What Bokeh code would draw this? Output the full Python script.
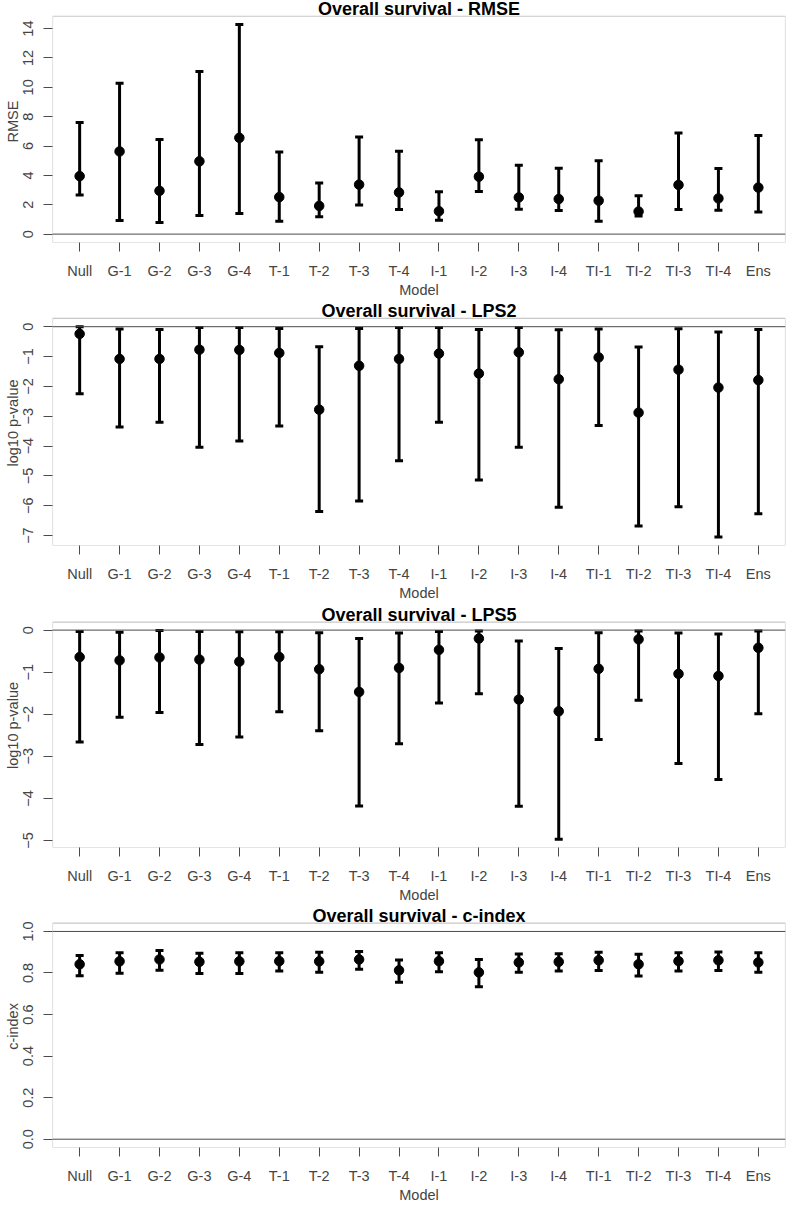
from bokeh.plotting import figure
from bokeh.models import (Range1d, FixedTicker, Span, Whisker, ColumnDataSource,
                          TeeHead, PrintfTickFormatter, Label, BoxAnnotation)
from bokeh.layouts import column
from bokeh.embed import file_html
from bokeh.resources import INLINE

models = ["Null", "G-1", "G-2", "G-3", "G-4", "T-1", "T-2", "T-3", "T-4",
          "I-1", "I-2", "I-3", "I-4", "TI-1", "TI-2", "TI-3", "TI-4", "Ens"]

rmse_mid = [3.95, 5.63, 2.95, 4.96, 6.56, 2.52, 1.92, 3.37, 2.84,
            1.56, 3.91, 2.50, 2.39, 2.28, 1.54, 3.35, 2.43, 3.17]
rmse_lo = [2.66, 0.92, 0.80, 1.27, 1.41, 0.87, 1.18, 1.99, 1.67,
           0.94, 2.90, 1.70, 1.61, 0.87, 1.23, 1.67, 1.63, 1.50]
rmse_hi = [7.61, 10.27, 6.45, 11.07, 14.27, 5.60, 3.48, 6.61, 5.65,
           2.88, 6.43, 4.69, 4.49, 5.00, 2.61, 6.88, 4.47, 6.72]

lps2_mid = [-0.24, -1.08, -1.08, -0.77, -0.78, -0.88, -2.78, -1.31, -1.08,
            -0.90, -1.57, -0.86, -1.76, -1.03, -2.88, -1.44, -2.04, -1.79]
lps2_lo = [-2.25, -3.36, -3.20, -4.04, -3.83, -3.33, -6.19, -5.84, -4.49,
           -3.20, -5.14, -4.04, -6.05, -3.31, -6.68, -6.03, -7.05, -6.27]
lps2_hi = [0.00, -0.08, -0.09, -0.03, -0.03, -0.06, -0.67, -0.06, -0.03,
           -0.03, -0.09, -0.03, -0.10, -0.08, -0.68, -0.07, -0.18, -0.09]

lps5_mid = [-0.64, -0.72, -0.65, -0.70, -0.75, -0.64, -0.93, -1.47, -0.90,
            -0.47, -0.20, -1.65, -1.93, -0.92, -0.22, -1.04, -1.09, -0.42]
lps5_lo = [-2.66, -2.07, -1.96, -2.72, -2.54, -1.94, -2.39, -4.18, -2.70,
           -1.73, -1.51, -4.19, -4.97, -2.60, -1.67, -3.17, -3.55, -1.99]
lps5_hi = [-0.03, -0.05, -0.01, -0.03, -0.04, -0.04, -0.06, -0.20, -0.07,
           -0.03, -0.02, -0.26, -0.44, -0.06, -0.02, -0.07, -0.09, -0.02]

cidx_mid = [0.842, 0.856, 0.865, 0.854, 0.856, 0.857, 0.856, 0.865, 0.813,
            0.857, 0.803, 0.851, 0.854, 0.861, 0.842, 0.857, 0.861, 0.851]
cidx_lo = [0.787, 0.799, 0.813, 0.798, 0.798, 0.809, 0.804, 0.818, 0.755,
           0.806, 0.734, 0.804, 0.810, 0.812, 0.785, 0.810, 0.812, 0.803]
cidx_hi = [0.884, 0.898, 0.908, 0.895, 0.898, 0.898, 0.900, 0.903, 0.862,
           0.898, 0.865, 0.892, 0.893, 0.900, 0.890, 0.898, 0.901, 0.898]

rmse_ticks = [0, 2, 4, 6, 8, 10, 12, 14]
lps2_ticks = [0, -1, -2, -3, -4, -5, -6, -7]
lps5_ticks = [0, -1, -2, -3, -4, -5]
cidx_ticks = [0.0, 0.2, 0.4, 0.6, 0.8, 1.0]

FONT = "Liberation Sans"
BOX = "#4a4a4a"


def make_panel(title, ylabel, mid, lo, hi, ylim, yticks, hlines,
               height, bottom, ext):
    n = len(models)
    xs = list(range(1, n + 1))
    x0 = 1 - 0.04 * (n - 1)
    x1 = n + 0.04 * (n - 1)
    r = ylim[1] - ylim[0]
    b0 = ylim[0] - 0.04 * r
    b1 = ylim[1] + 0.04 * r
    box_px = height - bottom - ext
    dpp = (b1 - b0) / box_px
    p = figure(width=786, height=height, output_backend="svg", toolbar_location=None,
               x_range=Range1d(x0, x1), y_range=Range1d(b0, b1 + ext * dpp),
               min_border_left=52, min_border_right=1, min_border_top=0,
               min_border_bottom=bottom, background_fill_color="white",
               border_fill_color="white")
    p.outline_line_color = None
    p.xgrid.visible = False
    p.ygrid.visible = False

    p.add_layout(BoxAnnotation(left=x0, right=x1, bottom=b0, top=b1,
                               fill_alpha=0, line_color=BOX, line_width=1.2))
    p.add_layout(Label(x=(1 + n) / 2, y=b1 + 7.5 * dpp, text=title,
                       text_align="center", text_baseline="alphabetic",
                       text_font=FONT, text_font_size="18px",
                       text_font_style="bold", text_color="black"))

    src = ColumnDataSource(dict(x=xs, mid=mid, lo=lo, hi=hi))
    for h in hlines:
        p.add_layout(Span(location=h, dimension="width", line_color=BOX, line_width=1))
    w = Whisker(source=src, base="x", upper="hi", lower="lo",
                line_color="black", line_width=3,
                upper_head=TeeHead(size=8, line_width=3, line_color="black"),
                lower_head=TeeHead(size=8, line_width=3, line_color="black"))
    p.add_layout(w)
    p.scatter("x", "mid", source=src, size=9.5, color="black")

    xa = p.xaxis[0]
    xa.ticker = FixedTicker(ticks=xs)
    xa.major_label_overrides = {i: m for i, m in zip(xs, models)}
    xa.axis_label = "Model"
    xa.axis_label_text_font = FONT
    xa.axis_label_text_font_style = "normal"
    xa.axis_label_text_font_size = "14.5px"
    xa.axis_label_text_line_height = 1.0
    xa.axis_label_standoff = 0
    xa.major_label_text_font = FONT
    xa.major_label_text_font_size = "14.5px"
    xa.major_label_text_line_height = 1.0
    xa.major_tick_out = 9
    xa.major_tick_in = 0
    xa.minor_tick_out = 0
    xa.minor_tick_in = 0
    xa.major_label_standoff = 11
    xa.axis_line_color = None
    xa.major_tick_line_color = BOX

    ya = p.yaxis[0]
    ya.ticker = FixedTicker(ticks=yticks)
    if isinstance(yticks[0], float):
        ya.formatter = PrintfTickFormatter(format="%.1f")
    ya.axis_label = ylabel
    ya.axis_label_text_font = FONT
    ya.axis_label_text_font_style = "normal"
    ya.axis_label_text_font_size = "14.5px"
    ya.axis_label_text_line_height = 1.0
    ya.axis_label_standoff = 0
    ya.major_label_text_font = FONT
    ya.major_label_text_font_size = "14.5px"
    ya.major_label_text_line_height = 1.0
    ya.major_label_orientation = "vertical"
    ya.major_tick_out = 9
    ya.major_tick_in = 0
    ya.minor_tick_out = 0
    ya.minor_tick_in = 0
    ya.major_label_standoff = 10
    ya.axis_line_color = None
    ya.major_tick_line_color = BOX
    return p


p1 = make_panel("Overall survival - RMSE", "RMSE", rmse_mid, rmse_lo, rmse_hi,
                (0, max(rmse_hi)), rmse_ticks, [0], 300, 54, 16)
p2 = make_panel("Overall survival - LPS2", "log10 p-value", lps2_mid, lps2_lo, lps2_hi,
                (min(lps2_lo), max(lps2_hi)), lps2_ticks, [0], 303, 55, 18)
p3 = make_panel("Overall survival - LPS5", "log10 p-value", lps5_mid, lps5_lo, lps5_hi,
                (min(lps5_lo), max(lps5_hi)), lps5_ticks, [0], 302, 54, 19)
p4 = make_panel("Overall survival - c-index", "c-index", cidx_mid, cidx_lo, cidx_hi,
                (0, 1), cidx_ticks, [0, 1], 300, 53, 18)

layout = column(p1, p2, p3, p4, spacing=0)
open("out.html", "w").write(file_html(layout, INLINE))
